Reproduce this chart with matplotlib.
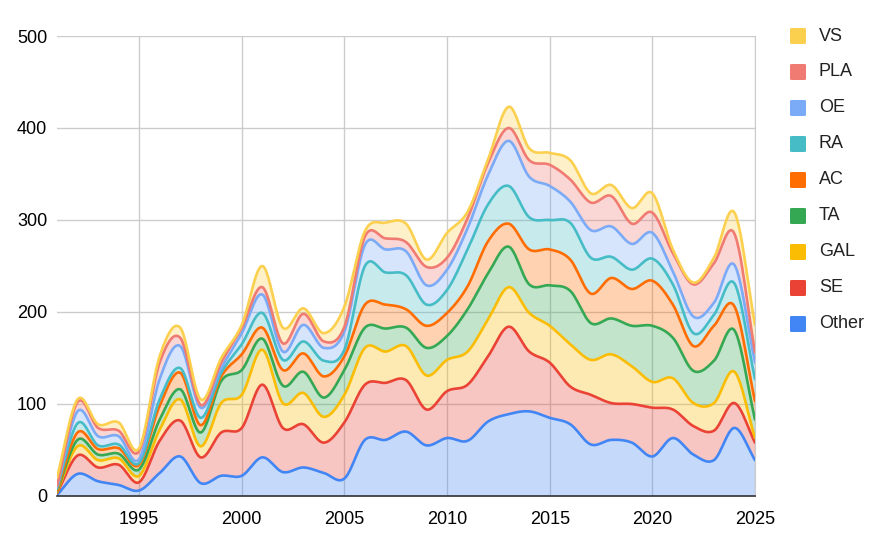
import numpy as np
import matplotlib
matplotlib.use("Agg")
import matplotlib.pyplot as plt
from matplotlib.patches import FancyBboxPatch

plt.rcParams['font.family'] = ['Liberation Sans', 'DejaVu Sans']

#------------DATA--------------------------
years = list(range(1991, 2026))

other = [1, 24, 16, 12, 6, 25, 43, 14, 22, 22, 42, 26, 31, 25, 19, 61, 61, 70, 55, 63,
         60, 81, 89, 92, 85, 78, 56, 61, 58, 43, 63, 45, 39, 74, 39]
se = [2, 20, 15, 22, 9, 35, 39, 28, 47, 52, 79, 48, 47, 33, 61, 60, 62, 56, 39, 51,
      61, 71, 95, 65, 60, 41, 54, 40, 42, 53, 31, 31, 32, 27, 19]
gal = [1, 10, 8, 7, 7, 12, 23, 12, 32, 36, 38, 27, 34, 28, 30, 40, 34, 37, 37, 34,
       36, 40, 43, 42, 40, 46, 38, 53, 41, 28, 34, 25, 30, 34, 5]
ta = [1, 7, 6, 5, 7, 11, 11, 15, 24, 27, 12, 19, 23, 21, 27, 22, 25, 20, 30, 26,
      46, 50, 44, 31, 44, 58, 40, 39, 44, 61, 44, 35, 46, 45, 20]
ac = [1, 8, 6, 6, 5, 15, 18, 8, 5, 17, 12, 17, 20, 23, 15, 25, 26, 20, 24, 25,
      25, 35, 25, 38, 39, 34, 32, 44, 40, 49, 36, 27, 38, 26, 20]
ra = [2, 10, 4, 4, 2, 7, 5, 8, 4, 11, 16, 11, 13, 17, 7, 42, 35, 37, 23, 25,
      40, 40, 41, 35, 32, 40, 39, 23, 21, 24, 22, 14, 12, 25, 24]
oe = [2, 13, 10, 9, 4, 22, 24, 11, 5, 12, 20, 9, 18, 14, 20, 23, 25, 26, 21, 22,
      23, 32, 49, 44, 37, 23, 30, 33, 28, 28, 14, 18, 13, 20, 18]
pla = [1, 10, 9, 6, 9, 18, 9, 3, 6, 6, 8, 9, 12, 7, 5, 9, 12, 10, 20, 13,
       11, 13, 14, 18, 23, 24, 30, 33, 22, 22, 20, 35, 43, 34, 11]
vs = [9, 3, 4, 9, 3, 7, 11, 6, 5, 3, 23, 17, 6, 9, 22, 6, 17, 20, 8, 27,
      7, 4, 23, 13, 13, 21, 10, 12, 17, 21, 4, 2, 6, 23, 30]

series = [other, se, gal, ta, ac, ra, oe, pla, vs]
labels = ['Other', 'SE', 'GAL', 'TA', 'AC', 'RA', 'OE', 'PLA', 'VS']
colors = ['#4285F4', '#EA4335', '#FBBC04', '#34A853', '#FF6D01',
          '#46BDC6', '#7BAAF7', '#F07B72', '#FCD04F']


def smooth(x, y, n=24):
    # cubic hermite through the points (like the "function" curve type)
    x = np.asarray(x, float)
    y = np.asarray(y, float)
    m = np.zeros_like(y)
    m[1:-1] = (y[2:] - y[:-2]) / 2
    m[0] = y[1] - y[0]
    m[-1] = y[-1] - y[-2]
    xs, ys = [], []
    for i in range(len(x) - 1):
        t = np.linspace(0, 1, n, endpoint=False)
        h00 = 2*t**3 - 3*t**2 + 1
        h10 = t**3 - 2*t**2 + t
        h01 = -2*t**3 + 3*t**2
        h11 = t**3 - t**2
        xs.append(x[i] + t * (x[i+1] - x[i]))
        ys.append(h00*y[i] + h10*m[i] + h01*y[i+1] + h11*m[i+1])
    xs.append([x[-1]])
    ys.append([y[-1]])
    return np.concatenate(xs), np.concatenate(ys)


#------------FIGURE--------------------------
fig = plt.figure(figsize=(8.83, 5.39), dpi=100)
W, H = 883, 539
ax = fig.add_axes([57/W, (H-496)/H, (755-57)/W, (496-36)/H])

cum = np.zeros(len(years))
prev_s = None
lines = []
for vals, c in zip(series, colors):
    cum = cum + np.array(vals)
    xs, ys = smooth(years, cum)
    base = np.zeros_like(ys) if prev_s is None else prev_s
    ax.fill_between(xs, base, ys, color=c, alpha=0.3, linewidth=0, zorder=2)
    lines.append((xs, ys, c))
    prev_s = ys

for xs, ys, c in lines:
    ax.plot(xs, ys, color=c, linewidth=1.9, zorder=3, solid_capstyle='round')

ax.set_xlim(1991, 2025)
ax.set_ylim(0, 500)
ax.set_xticks(range(1995, 2026, 5))
ax.set_yticks(range(0, 501, 100))
ax.grid(True, color='#cccccc', linewidth=1, zorder=0)
ax.set_axisbelow(True)
for s in ['top', 'left']:
    ax.spines[s].set_visible(False)
ax.spines['right'].set_color('#cccccc')
ax.spines['bottom'].set_color('#333333')
ax.spines['bottom'].set_linewidth(1.2)
ax.spines['bottom'].set_zorder(4)
ax.tick_params(length=0, labelsize=13, colors='#000000')
ax.tick_params(axis='y', pad=7)
ax.tick_params(axis='x', pad=11)

# legend on the right
for i, (lab, c) in enumerate(zip(labels[::-1], colors[::-1])):
    yc = 36 + 36*i
    fig.add_artist(FancyBboxPatch((790/W, (H - yc - 8)/H), 16/W, 16/H,
                                  boxstyle='round,pad=0,rounding_size=0.002',
                                  transform=fig.transFigure, color=c, linewidth=0))
    fig.text(819/W, (H - yc)/H, lab, fontsize=13, va='center', ha='left', color='#222222')

plt.savefig('out.png', dpi=100)
